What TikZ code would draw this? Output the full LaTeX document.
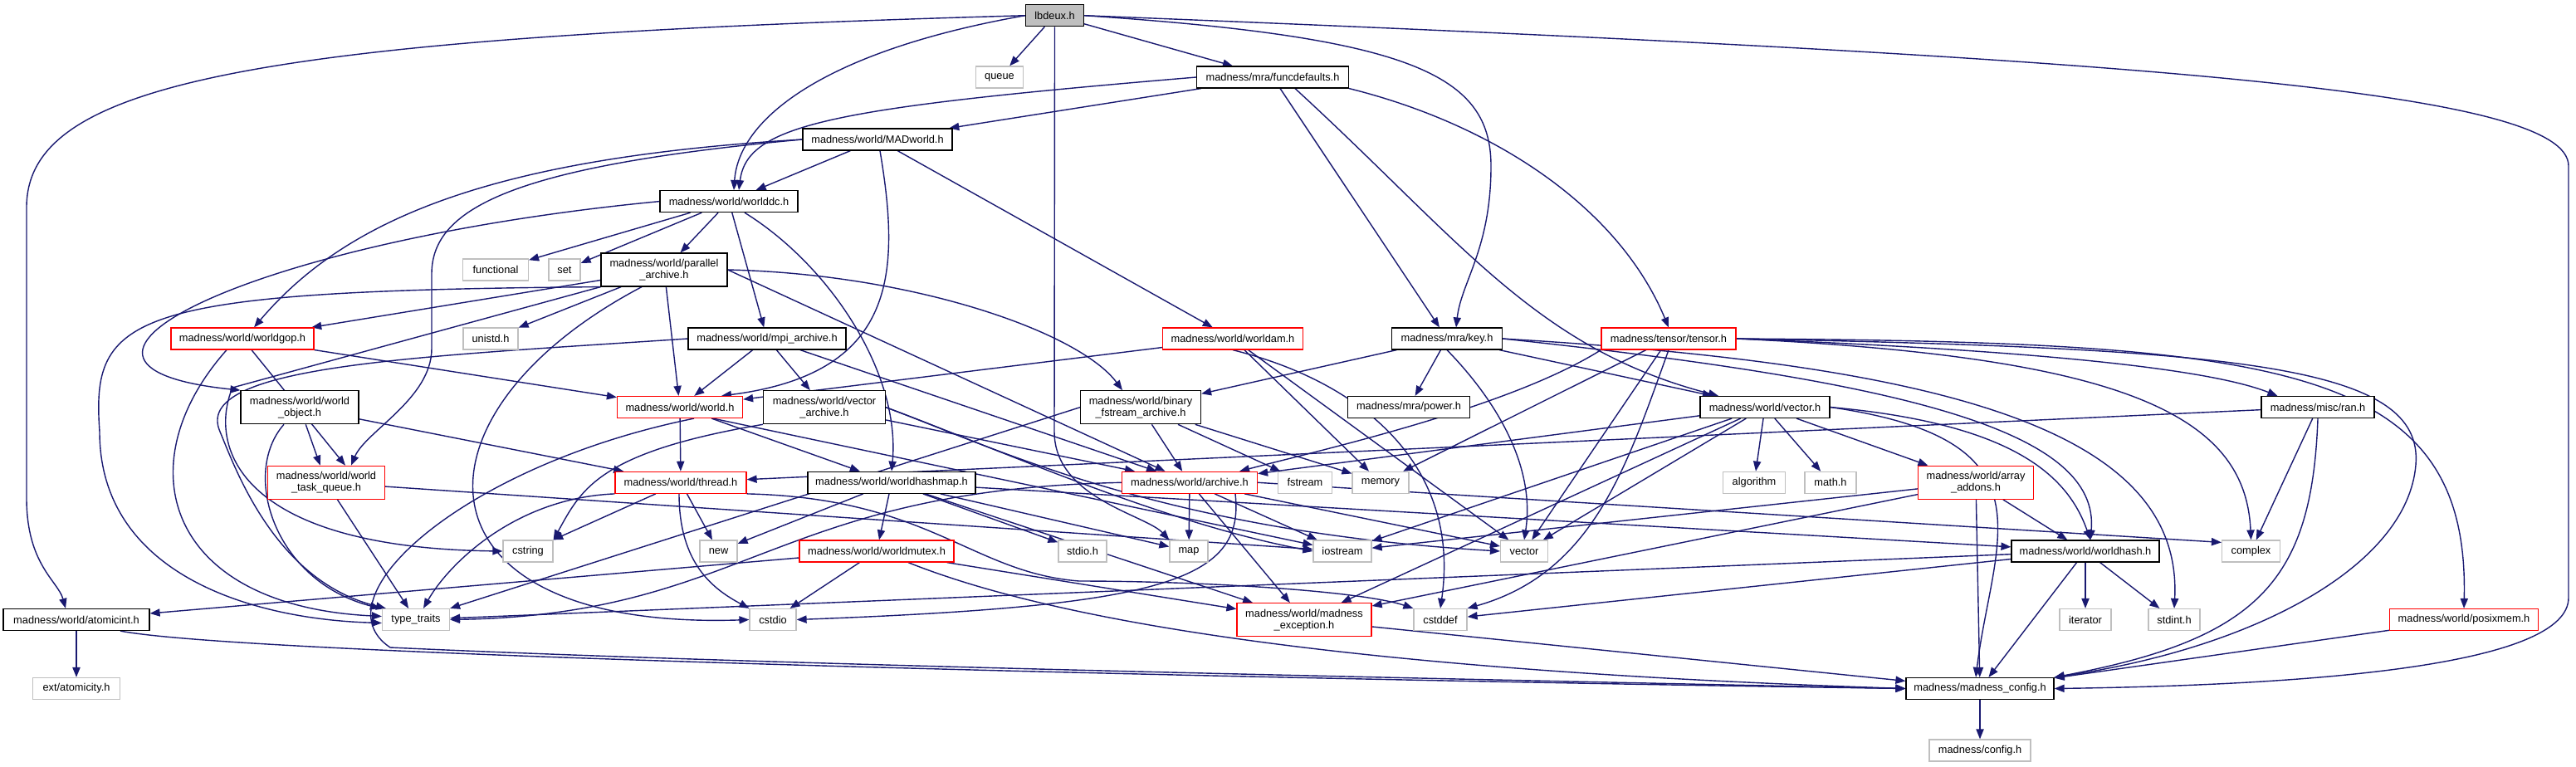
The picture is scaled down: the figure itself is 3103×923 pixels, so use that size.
\documentclass[tikz,border=0pt]{standalone}
\usepackage{fontspec}
\setmainfont{Liberation Sans}
\usetikzlibrary{arrows.meta,calc}
\definecolor{edgec}{HTML}{191970}
\definecolor{extc}{HTML}{BFBFBF}
\pgfdeclarelayer{bg}
\pgfsetlayers{bg,main}
\begin{document}
\begin{tikzpicture}[x=0.5pt,y=-0.5pt,
  every node/.style={font=\fontsize{6.4}{7}\selectfont, inner sep=0pt, line width=0.6pt, fill=white},
  nb/.style={draw=black, minimum height=13pt, minimum width=#1*0.5pt},
  nr/.style={draw=red, minimum height=13pt, minimum width=#1*0.5pt},
  ng/.style={draw=extc, minimum height=13pt, minimum width=#1*0.5pt},
  two/.style={minimum height=20pt, align=center},
  e/.style={draw=edgec, line width=0.7pt, -{Triangle[length=6pt,width=4.6pt]}},
]
\useasboundingbox (0,0) rectangle (3103,923);
% ---------- nodes ----------
\node[nb=70, fill=extc] (lbdeux) at (1270.5,18.7) {lbdeux.h};
\node[ng=57] (queue) at (1204,93) {queue};
\node[nb=183] (funcdefaults) at (1533,93) {madness/mra/funcdefaults.h};
\node[nb=180] (MADworld) at (1057,168) {madness/world/MADworld.h};
\node[nb=166] (worlddc) at (878,242.6) {madness/world/worlddc.h};
\node[ng=79] (functional) at (597,325) {functional};
\node[ng=38] (set) at (680,325) {set};
\node[nb=152,two] (parallel) at (800,325) {madness/world/parallel\\\_archive.h};
\node[nr=172] (worldgop) at (292,408) {madness/world/worldgop.h};
\node[ng=66] (unistd) at (591,408) {unistd.h};
\node[nb=190] (mpi) at (924,408) {madness/world/mpi\_archive.h};
\node[nr=169] (worldam) at (1485,408) {madness/world/worldam.h};
\node[nb=133] (key) at (1743,408) {madness/mra/key.h};
\node[nr=162] (tensor) at (2010,408) {madness/tensor/tensor.h};
\node[nb=142,two] (wobject) at (361,490.7) {madness/world/world\\\_object.h};
\node[nr=151] (worldh) at (819,490.5) {madness/world/world.h};
\node[nb=147,two] (varchive) at (993,490.7) {madness/world/vector\\\_archive.h};
\node[nb=145,two] (binary) at (1374,490.7) {madness/world/binary\\\_fstream\_archive.h};
\node[nb=147] (power) at (1697,490.5) {madness/mra/power.h};
\node[nb=156] (vectorh) at (2126,490.5) {madness/world/vector.h};
\node[nb=136] (ran) at (2792,490.5) {madness/misc/ran.h};
\node[nr=141,two] (taskq) at (393,581.3) {madness/world/world\\\_task\_queue.h};
\node[nr=158] (thread) at (820,581.3) {madness/world/thread.h};
\node[nb=202] (hashmap) at (1074,581.3) {madness/world/worldhashmap.h};
\node[nr=163] (archive) at (1433,581.3) {madness/world/archive.h};
\node[ng=65] (fstream) at (1572,581.3) {fstream};
\node[ng=68] (memory) at (1663,581.3) {memory};
\node[ng=75] (algorithm) at (2113,581.3) {algorithm};
\node[ng=62] (math) at (2205,581.3) {math.h};
\node[nr=139,two] (addons) at (2380,581.3) {madness/world/array\\\_addons.h};
\node[ng=60] (cstring) at (636,664) {cstring};
\node[ng=45] (new) at (865.5,664) {new};
\node[nr=186] (mutex) at (1056,664) {madness/world/worldmutex.h};
\node[ng=58] (stdio) at (1304,664) {stdio.h};
\node[ng=46] (map) at (1432,664) {map};
\node[ng=70] (iostream) at (1617,664) {iostream};
\node[ng=57] (vector) at (1836,664) {vector};
\node[nb=178] (worldhash) at (2512,664) {madness/world/worldhash.h};
\node[ng=70] (complex) at (2711.5,664) {complex};
\node[nb=176] (atomicint) at (92,746.5) {madness/world/atomicint.h};
\node[ng=81] (typetraits) at (501,746.5) {type\_traits};
\node[ng=56] (cstdio) at (931,746.5) {cstdio};
\node[nr=162,two] (mexc) at (1571,746.7) {madness/world/madness\\\_exception.h};
\node[ng=64] (cstddef) at (1735,746.5) {cstddef};
\node[ng=62] (iterator) at (2512,746.5) {iterator};
\node[ng=62] (stdint) at (2619,746.5) {stdint.h};
\node[nr=179] (posixmem) at (2968,746.5) {madness/world/posixmem.h};
\node[ng=105] (atomicity) at (92,829.5) {ext/atomicity.h};
\node[nb=178] (mconfig) at (2385,829.5) {madness/madness\_config.h};
\node[ng=122] (config) at (2385,904) {madness/config.h};
% ---------- edges ----------
\begin{pgfonlayer}{bg}
% lbdeux
\draw[e] (lbdeux) -- (queue);
\draw[e] (lbdeux) -- (funcdefaults);
\draw[e] (lbdeux.west) .. controls (1000,60) and (890,140) .. ($(worlddc.north)+(6,0)$);
\draw[e] (lbdeux.west) .. controls (300,45) and (32,100) .. (32,250) -- (32,600) .. controls (32,680) and (70,700) .. ($(atomicint.north)+(-13,0)$);
\draw[e] (lbdeux.south) -- (1270,520) .. controls (1270,600) and (1380,620) .. (map.north west);
\draw[e] (lbdeux.east) .. controls (1700,45) and (1796,90) .. (1796,200) .. controls (1796,300) and (1760,340) .. ($(key.north)+(11,0)$);
\draw[e] (lbdeux.east) .. controls (2600,70) and (3094,110) .. (3094,200) -- (3094,720) .. controls (3094,800) and (2800,825) .. (mconfig.east);
% funcdefaults
\draw[e] (funcdefaults) -- (MADworld);
\draw[e] (funcdefaults.west) .. controls (1000,130) and (900,150) .. ($(worlddc.north)+(12,0)$);
\draw[e] (funcdefaults) -- (key);
\draw[e] ($(funcdefaults.south)+(27,0)$) .. controls (1760,290) and (1850,420) .. ($(vectorh.north)+(-56,0)$);
\draw[e] (funcdefaults.south east) .. controls (1800,150) and (1950,250) .. (tensor.north);
% MADworld
\draw[e] (MADworld) -- (worlddc);
\draw[e] (MADworld.west) .. controls (600,190) and (420,260) .. ($(worldgop.north)+(14,0)$);
\draw[e] (MADworld.west) .. controls (620,200) and (520,250) .. (520,330) -- (520,420) .. controls (520,480) and (440,520) .. ($(taskq.north)+(30,0)$);
\draw[e] ($(MADworld.south)+(3,0)$) .. controls (1085,330) and (1080,450) .. ($(worldh.north)+(50,0)$);
\draw[e] (MADworld) -- (worldam);
% worlddc
\draw[e] (worlddc) -- (functional);
\draw[e] (worlddc) -- (set);
\draw[e] (worlddc) -- (parallel);
\draw[e] (worlddc) -- (mpi);
\draw[e] ($(worlddc.south)+(19,0)$) .. controls (1000,320) and (1085,450) .. (hashmap.north);
\draw[e] (worlddc.west) .. controls (300,290) and (0,440) .. (wobject.north west);
% parallel
\draw[e] (parallel) -- (worldgop);
\draw[e] (parallel) -- (unistd);
\draw[e] (parallel) -- (worldh);
\draw[e] (parallel.east) .. controls (1100,330) and (1300,400) .. ($(binary.north)+(-22,0)$);
\draw[e] (parallel.east) -- (archive);
\draw[e] (parallel.south west) .. controls (150,350) and (110,380) .. (120,520) .. controls (120,690) and (300,746) .. ($(typetraits.west)+(0,4)$);
\draw[e] ($(parallel.south)+(-27,0)$) .. controls (480,500) and (490,760) .. (cstdio.west);
\draw[e] (parallel.south west) -- (280,467) .. controls (250,540) and (290,660) .. (cstring.west);
% worldgop
\draw[e] (worldgop) -- (worldh);
\draw[e] (worldgop) -- ($(taskq.north)+(23,0)$);
\draw[e] ($(worldgop.south)+(-19,0)$) .. controls (150,560) and (200,730) .. ($(typetraits.west)+(0,-4)$);
% mpi
\draw[e] (mpi) -- (worldh);
\draw[e] (mpi) -- (varchive);
\draw[e] (mpi) -- (archive);
\draw[e] (mpi.west) .. controls (500,430) and (230,440) .. (265,520) .. controls (282,560) and (330,700) .. ($(typetraits.north west)+(5,0)$);
% worldam
\draw[e] (worldam) -- (worldh);
\draw[e] (worldam) -- (memory);
\draw[e] (worldam) -- (vector);
\draw[e] (worldam.south) .. controls (1640,460) and (1760,560) .. (cstddef.north);
% key
\draw[e] (key) -- (power);
\draw[e] (key) -- (binary);
\draw[e] (key) -- (vectorh);
\draw[e] (key.south) .. controls (1800,480) and (1850,560) .. (vector.north);
\draw[e] (key.east) .. controls (2300,460) and (2530,520) .. ($(worldhash.north)+(6,0)$);
\draw[e] (key.east) .. controls (2350,440) and (2630,520) .. (stdint.north);
% tensor
\draw[e] (tensor.south west) .. controls (1820,490) and (1600,540) .. ($(archive.north east)+(-22,0)$);
\draw[e] (tensor) -- (memory);
\draw[e] (tensor) -- (vector);
\draw[e] (tensor.south) .. controls (1960,560) and (1920,690) .. (cstddef.north east);
\draw[e] (tensor.east) .. controls (2400,420) and (2650,440) .. ($(ran.north west)+(20,0)$);
\draw[e] (tensor.east) .. controls (2560,430) and (2705,500) .. (complex.north);
\draw[e] (tensor.east) .. controls (2750,412) and (2975,440) .. (posixmem.north);
\draw[e] (tensor.east) .. controls (2700,420) and (2920,440) .. (2910,560) .. controls (2900,680) and (2720,780) .. (mconfig.north east);
% world_object
\draw[e] (wobject) -- (taskq);
\draw[e] (wobject) -- (thread);
\draw[e] ($(wobject.south)+(-19,0)$) .. controls (290,570) and (330,700) .. ($(typetraits.north west)+(-2,0)$);
% world.h
\draw[e] (worldh) -- (thread);
\draw[e] (worldh) -- (hashmap);
\draw[e] ($(worldh.south)+(40,0)$) -- (iostream);
\draw[e] ($(worldh.south)+(17,0)$) .. controls (560,560) and (380,720) .. (470,780) .. controls (900,800) and (1600,815) .. (mconfig.west);
% vector_archive
\draw[e] (varchive) -- (archive);
\draw[e] (varchive.east) .. controls (1200,540) and (1400,640) .. (vector.west);
\draw[e] (varchive.east) .. controls (1200,540) and (1400,630) .. (iostream.west);
\draw[e] (varchive.south west) .. controls (720,545) and (700,590) .. (cstring.north east);
% binary
\draw[e] (binary) -- (archive);
\draw[e] (binary) -- (fstream);
\draw[e] (binary) -- (memory);
\draw[e] (binary.west) -- (typetraits.north east);
% vector.h
\draw[e] (vectorh) -- (algorithm);
\draw[e] (vectorh) -- (math);
\draw[e] (vectorh) -- (addons);
\draw[e] (vectorh.east) .. controls (2420,510) and (2490,570) .. ($(worldhash.north)+(6,0)$);
\draw[e] (vectorh) -- (vector);
\draw[e] (vectorh) -- (iostream);
\draw[e] (vectorh) -- (archive);
\draw[e] (vectorh) -- (mexc);
\draw[e] (vectorh.east) .. controls (2480,530) and (2400,650) .. ($(mconfig.north)+(-5,0)$);
% ran
\draw[e] (ran) -- (thread);
\draw[e] (ran) -- (complex);
\draw[e] (ran.south) .. controls (2785,700) and (2720,770) .. (mconfig.north east);
% task queue
\draw[e] (taskq) -- (typetraits);
\draw[e] (taskq) -- (iostream);
% thread
\draw[e] (thread) -- (cstring);
\draw[e] (thread) -- (new);
\draw[e] ($(thread.south)+(-2,0)$) .. controls (818,680) and (860,710) .. (cstdio.north west);
\draw[e] (thread.south west) .. controls (620,600) and (540,680) .. ($(typetraits.north)+(9,0)$);
\draw[e] (thread.south east) .. controls (1120,600) and (1170,690) .. (1300,700) .. controls (1450,700) and (1640,712) .. (cstddef.north west);
% worldhashmap
\draw[e] (hashmap) -- (new);
\draw[e] (hashmap) -- (mutex);
\draw[e] (hashmap) -- (stdio);
\draw[e] (hashmap) -- (map);
\draw[e] (hashmap) -- (mexc);
\draw[e] (hashmap) -- (worldhash);
% archive
\draw[e] (archive.west) .. controls (930,590) and (900,740) .. (typetraits.east);
\draw[e] ($(archive.south)+(55,0)$) .. controls (1500,700) and (1400,730) .. (cstdio.east);
\draw[e] (archive) -- (map);
\draw[e] (archive) -- (iostream);
\draw[e] (archive) -- (vector);
\draw[e] (archive.east) -- ($(complex.north west)+(0,3)$);
\draw[e] (archive) -- (mexc);
% array_addons
\draw[e] (addons) -- (iostream);
\draw[e] (addons) -- (worldhash);
\draw[e] (addons) -- (mexc);
\draw[e] (addons) -- (mconfig);
% worldmutex
\draw[e] (mutex) -- (atomicint);
\draw[e] (mutex) -- (cstdio);
\draw[e] (mutex) -- (mexc);
\draw[e] ($(mutex.south)+(38,0)$) .. controls (1300,760) and (1700,810) .. (mconfig.west);
% atomicint
\draw[e] (atomicint) -- (atomicity);
\draw[e] ($(atomicint.south)+(53,0)$) .. controls (300,790) and (1500,818) .. (mconfig.west);
% worldhash
\draw[e] (worldhash) -- (iterator);
\draw[e] (worldhash) -- (stdint);
\draw[e] (worldhash) -- (mconfig);
\draw[e] (worldhash) -- (typetraits);
\draw[e] (worldhash) -- (cstddef);
% rest
\draw[e] (mexc) -- (mconfig);
\draw[e] (posixmem) -- (mconfig);
\draw[e] (mconfig) -- (config);
\end{pgfonlayer}
\end{tikzpicture}
\end{document}
